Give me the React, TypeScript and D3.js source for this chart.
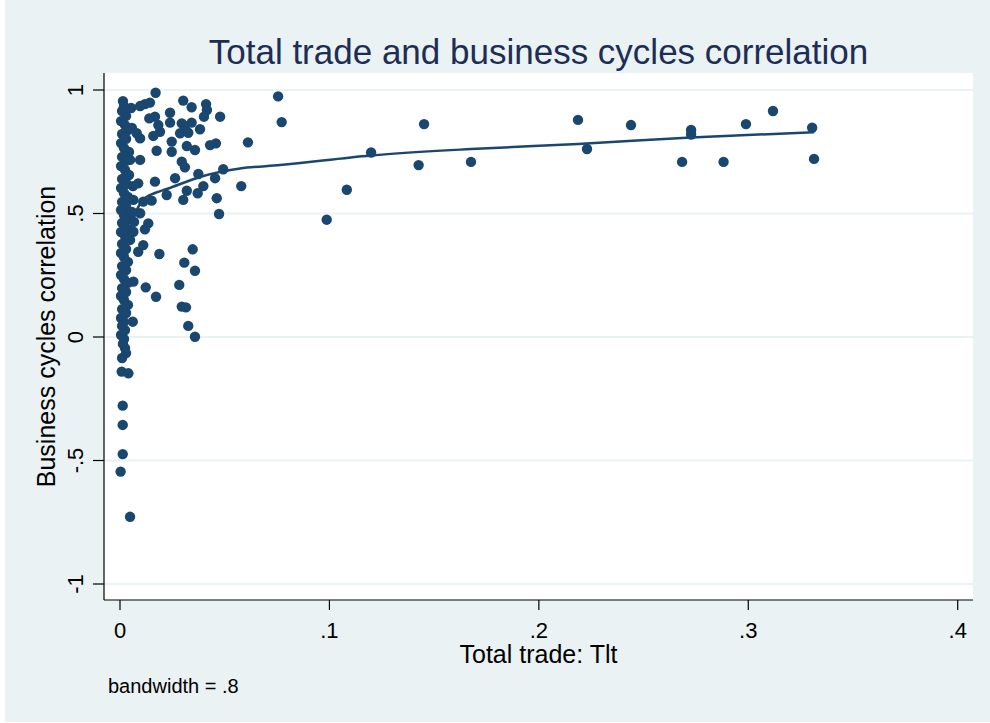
import React from "react";
import * as d3 from "d3";

// Scatter: [total trade, business cycles correlation]
const columnPoints: [number, number][] = [
  [0.0014, 0.955], [0.0019, 0.935], [0.001, 0.915], [0.0029, 0.895], [0.0005, 0.874],
  [0.0024, 0.858], [0.0038, 0.838], [0.001, 0.822], [0.0029, 0.802], [0.0005, 0.785],
  [0.0019, 0.765], [0.0043, 0.749], [0.001, 0.729], [0.0029, 0.713], [0.0005, 0.692],
  [0.0024, 0.676], [0.0043, 0.656], [0.001, 0.64], [0.0033, 0.619], [0.0005, 0.603],
  [0.0019, 0.583], [0.0038, 0.567], [0.001, 0.547], [0.0029, 0.53], [0.0005, 0.514],
  [0.0019, 0.494], [0.0043, 0.478], [0.001, 0.462], [0.0029, 0.441], [0.0005, 0.425],
  [0.0024, 0.409], [0.0048, 0.393], [0.001, 0.377], [0.0029, 0.356], [0.0005, 0.34],
  [0.0019, 0.324], [0.0038, 0.304], [0.001, 0.287], [0.0029, 0.271], [0.0005, 0.251],
  [0.0019, 0.235], [0.0038, 0.219], [0.001, 0.198], [0.0029, 0.182], [0.0005, 0.166],
  [0.0019, 0.15], [0.0038, 0.13], [0.001, 0.113], [0.0029, 0.097], [0.0005, 0.077],
  [0.0019, 0.061], [0.001, 0.045], [0.0024, 0.028], [0.0005, 0.008], [0.0019, -0.008],
  [0.0014, -0.028], [0.0024, -0.045], [0.0029, -0.065], [0.001, -0.085],
  [0.0053, 0.927], [0.0057, 0.846], [0.0048, 0.717], [0.0062, 0.611], [0.0057, 0.506],
  [0.0067, 0.466], [0.0064, 0.224], [0.0061, 0.062], [0.0064, 0.426],
  [0.0008, -0.14], [0.004, -0.147], [0.0013, -0.278], [0.0013, -0.356], [0.0013, -0.474],
  [0.0003, -0.545], [0.0048, -0.728],
];

const cloudPoints: [number, number][] = [
  [0.017, 0.989], [0.0096, 0.935], [0.0119, 0.943], [0.0143, 0.949], [0.0302, 0.957],
  [0.0342, 0.93], [0.0411, 0.943], [0.0415, 0.919], [0.0401, 0.892], [0.0478, 0.892],
  [0.0239, 0.908], [0.014, 0.885], [0.0167, 0.892], [0.0183, 0.858], [0.0191, 0.831],
  [0.0239, 0.868], [0.0295, 0.865], [0.031, 0.854], [0.0342, 0.868], [0.0382, 0.841],
  [0.0159, 0.814], [0.0287, 0.825], [0.0326, 0.827], [0.008, 0.825], [0.0096, 0.804],
  [0.0247, 0.791], [0.0247, 0.75], [0.0175, 0.754], [0.0319, 0.773], [0.0358, 0.757],
  [0.043, 0.777], [0.0458, 0.784], [0.0096, 0.717], [0.0295, 0.71], [0.031, 0.687],
  [0.0263, 0.643], [0.0374, 0.66], [0.0454, 0.643], [0.0493, 0.679], [0.0087, 0.622],
  [0.0167, 0.629], [0.0398, 0.611], [0.0319, 0.592], [0.0371, 0.582], [0.0223, 0.575],
  [0.0151, 0.552], [0.0111, 0.548], [0.0462, 0.562], [0.0302, 0.555], [0.0064, 0.555],
  [0.0473, 0.498], [0.0096, 0.501], [0.0135, 0.46], [0.0119, 0.436], [0.0111, 0.372],
  [0.0087, 0.345], [0.0188, 0.336], [0.0347, 0.355], [0.0307, 0.301], [0.0358, 0.268],
  [0.0123, 0.201], [0.0283, 0.211], [0.0172, 0.163], [0.0295, 0.123], [0.0315, 0.12],
  [0.0326, 0.045], [0.0358, 0.001],
];

const widePoints: [number, number][] = [
  [0.0755, 0.974], [0.0772, 0.87], [0.0611, 0.788], [0.0579, 0.611], [0.0987, 0.475],
  [0.1083, 0.596], [0.1199, 0.747], [0.1426, 0.696], [0.1452, 0.862], [0.1676, 0.709],
  [0.2187, 0.879], [0.223, 0.761], [0.244, 0.858], [0.2684, 0.709], [0.2727, 0.838],
  [0.2727, 0.82], [0.2882, 0.709], [0.2989, 0.862], [0.3118, 0.915], [0.3305, 0.847],
  [0.3314, 0.721],
];

// Lowess fit (bandwidth = .8)
const lowessX = [0.0005, 0.0056, 0.008, 0.011, 0.0167, 0.0223, 0.0382, 0.0573, 0.0764, 0.1199, 0.1676, 0.2187, 0.2727, 0.3314];
const lowessY = [0.393, 0.453, 0.514, 0.555, 0.583, 0.599, 0.648, 0.682, 0.696, 0.735, 0.761, 0.781, 0.808, 0.829];

const xTicks = [0, 0.1, 0.2, 0.3, 0.4];
const xTickLabels = ["0", ".1", ".2", ".3", ".4"];
const yTicks = [-1, -0.5, 0, 0.5, 1];
const yTickLabels = ["-1", "-.5", "0", ".5", "1"];

const titleText = "Total trade and business cycles correlation";
const xTitle = "Total trade: Tlt";
const yTitle = "Business cycles correlation";
const note = "bandwidth = .8";

export default function App() {
  const W = 990;
  const H = 723;
  const plotL = 104, plotR = 973, plotT = 73, plotB = 600;
  const x = d3.scaleLinear().domain([0, 0.4]).range([120, 957.7]);
  const y = d3.scaleLinear().domain([-1, 1]).range([584, 90]);
  const navy = "#1a476f";
  const bg = "#eaf2f3";
  const font = "'Liberation Sans', Arial, sans-serif";
  const points = [...columnPoints, ...cloudPoints, ...widePoints];
  const lowess = lowessX.map((v, i) => [v, lowessY[i]] as [number, number]);
  const linePath = d3
    .line<[number, number]>()
    .x((d) => x(d[0]))
    .y((d) => y(d[1]))
    .curve(d3.curveMonotoneX)(lowess) as string;

  return (
    <svg
      width={W}
      height={H}
      style={{ position: "absolute", left: 0, top: 0, display: "block" }}
      fontFamily={font}
    >
      <rect x={0} y={0} width={W} height={H} fill="#ffffff" />
      <rect x={5} y={0} width={W - 5} height={722} fill={bg} />
      <rect x={plotL} y={plotT} width={plotR - plotL} height={plotB - plotT} fill="#ffffff" />
      {yTicks.map((t) => (
        <line key={"g" + t} x1={plotL} x2={plotR} y1={y(t)} y2={y(t)} stroke={bg} strokeWidth={2} />
      ))}
      <text x={538.5} y={64} textAnchor="middle" fontSize={35} fill="#1e2d56">
        {titleText}
      </text>
      {/* axes */}
      <line x1={plotL} x2={plotL} y1={plotT} y2={plotB} stroke="#000" strokeWidth={1.2} />
      <line x1={plotL} x2={plotR} y1={plotB} y2={plotB} stroke="#000" strokeWidth={1.2} />
      {yTicks.map((t, i) => (
        <g key={"yt" + t}>
          <line x1={93} x2={plotL} y1={y(t)} y2={y(t)} stroke="#000" strokeWidth={1.2} />
          <text
            transform={`translate(83,${y(t)}) rotate(-90)`}
            textAnchor="middle"
            fontSize={22}
            fill="#000"
          >
            {yTickLabels[i]}
          </text>
        </g>
      ))}
      {xTicks.map((t, i) => (
        <g key={"xt" + t}>
          <line x1={x(t)} x2={x(t)} y1={plotB} y2={610} stroke="#000" strokeWidth={1.2} />
          <text x={x(t)} y={638} textAnchor="middle" fontSize={22} fill="#000">
            {xTickLabels[i]}
          </text>
        </g>
      ))}
      <text x={538.5} y={663} textAnchor="middle" fontSize={25} fill="#000">
        {xTitle}
      </text>
      <text
        transform={`translate(55,${(plotT + plotB) / 2}) rotate(-90)`}
        textAnchor="middle"
        fontSize={25}
        fill="#000"
      >
        {yTitle}
      </text>
      <text x={108} y={693} fontSize={20} fill="#000">
        {note}
      </text>
      {points.map((p, i) => (
        <circle key={"p" + i} cx={x(p[0])} cy={y(p[1])} r={5.2} fill={navy} />
      ))}
      <path d={linePath} fill="none" stroke={navy} strokeWidth={2.5} />
    </svg>
  );
}
